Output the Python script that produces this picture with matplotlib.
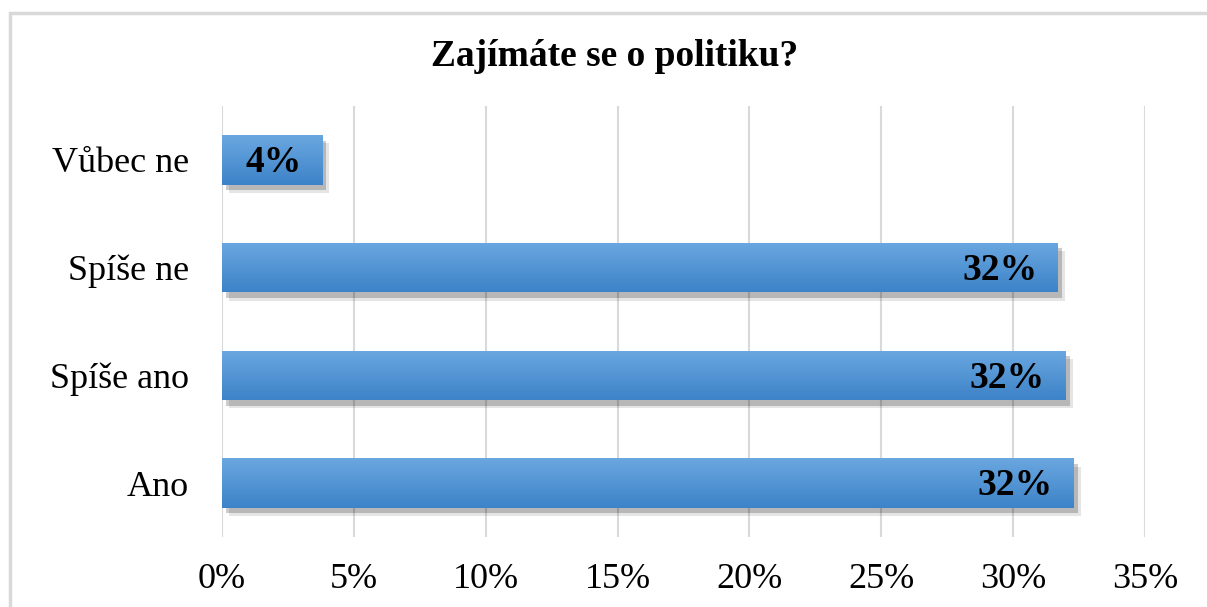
import numpy as np
import matplotlib
matplotlib.use("Agg")
import matplotlib.pyplot as plt
import matplotlib.patheffects as pe
from matplotlib.patches import Rectangle

categories = ["Ano", "Spíše ano", "Spíše ne", "Vůbec ne"]
values = [32.3, 32.0, 31.7, 3.8]
labels = ["32%", "32%", "32%", "4%"]
xticks = [0, 5, 10, 15, 20, 25, 30, 35]

plt.rcParams["font.family"] = ["Liberation Serif", "DejaVu Serif"]

fig = plt.figure(figsize=(12.07, 6.07), dpi=100)
ax = fig.add_axes([222 / 1207, 1 - 537 / 607, (1145 - 222) / 1207, (537 - 106) / 607])

# chart border
fig.patches.append(Rectangle((10 / 1207, -0.01), 1.02, 1 - 13 / 607 + 0.01,
                             transform=fig.transFigure, fill=False,
                             edgecolor="#d9d9d9", linewidth=2.5))

y = np.arange(len(categories))
bars = ax.barh(y, values, height=0.46, color="#4a8ed4", zorder=3)

# soft shadow + vertical gradient
grad = np.linspace(0, 1, 100).reshape(-1, 1)
cmap = matplotlib.colors.LinearSegmentedColormap.from_list("g", ["#6aa7e0", "#3d83c8"])
for b in bars:
    b.set_path_effects([
        pe.SimplePatchShadow(offset=(5, -6), shadow_rgbFace="#000000", alpha=0.10),
        pe.SimplePatchShadow(offset=(3, -4), shadow_rgbFace="#000000", alpha=0.20),
        pe.Normal(),
    ])
    x0, y0 = b.get_x(), b.get_y()
    w, h = b.get_width(), b.get_height()
    im = ax.imshow(grad, extent=(x0, x0 + w, y0, y0 + h), cmap=cmap,
                   aspect="auto", origin="upper", zorder=4, interpolation="bicubic")
    im.set_clip_path(b)

for yi, v, lab in zip(y, values, labels):
    ax.annotate(lab, (v, yi), xytext=(-15, -2), textcoords="offset points",
                ha="right", va="center", fontsize=27, fontweight="bold", zorder=5)

ax.set_xlim(0, 35)
ax.set_ylim(-0.5, 3.5)
ax.set_xticks(xticks)
ax.set_xticklabels([f"{t}%" for t in xticks])
ax.set_yticks(y)
ax.set_yticklabels(categories)
ax.tick_params(axis="both", length=0, labelsize=26)
ax.tick_params(axis="y", pad=24)
ax.tick_params(axis="x", pad=19)
ax.grid(axis="x", color="#d9d9d9", linewidth=1.5, zorder=0)
ax.set_axisbelow(True)
for s in ax.spines.values():
    s.set_visible(False)

fig.text(615 / 1207, 1 - 56 / 607, "Zajímáte se o politiku?", ha="center", va="center",
         fontsize=27, fontweight="bold")

fig.savefig("out.png", dpi=100)
